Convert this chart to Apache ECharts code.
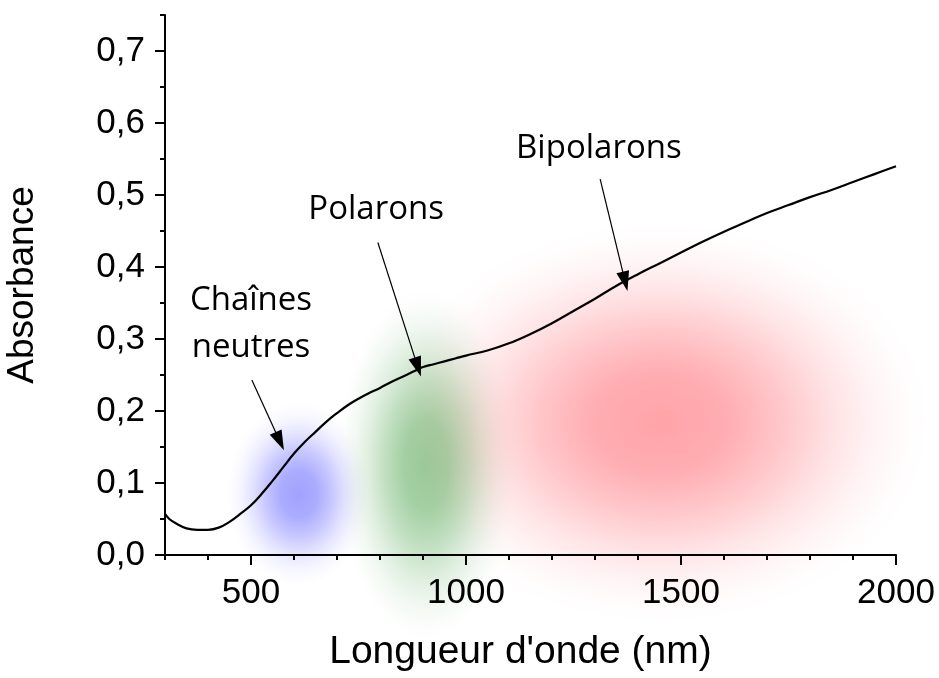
<!DOCTYPE html>
<html>
<head>
<meta charset="utf-8">
<script src="https://cdn.jsdelivr.net/npm/echarts@6/dist/echarts.min.js"></script>
<style>
html,body{margin:0;padding:0;background:#fff;}
#chart{width:939px;height:678px;}
</style>
</head>
<body>
<div id="chart"></div>
<script>
// Spectrum (wavelength nm, absorbance)
const wavelength = [300,310,325,350,375,400,425,450,475,500,525,550,575,600,625,650,675,700,725,750,775,800,825,850,875,900,925,950,975,1000,1050,1100,1150,1200,1250,1300,1350,1400,1450,1500,1550,1600,1650,1700,1750,1800,1850,1900,1950,2000];
const absorbance = [0.057,0.050,0.044,0.037,0.035,0.035,0.038,0.046,0.057,0.069,0.085,0.103,0.122,0.141,0.157,0.171,0.185,0.197,0.208,0.217,0.225,0.232,0.240,0.247,0.254,0.261,0.265,0.269,0.273,0.277,0.284,0.294,0.307,0.322,0.339,0.356,0.374,0.390,0.405,0.420,0.435,0.449,0.462,0.475,0.486,0.497,0.507,0.518,0.529,0.540];

// Tick labels
const xLabelValues = [500,1000,1500,2000];
const yLabelValues = [0,0.1,0.2,0.3,0.4,0.5,0.6,0.7];

// Coloured regions (centre wavelength, centre absorbance)
const blobX = [611, 907, 1451];
const blobY = [0.085, 0.125, 0.184];

// Annotations
const annoText = ['Chaînes\nneutres', 'Polarons', 'Bipolarons'];
const annoX = [500, 791, 1309];
const annoY = [0.321, 0.480, 0.565];
const arrowFromX = [502, 795, 1312];
const arrowFromY = [0.243, 0.434, 0.522];
const arrowToX = [567, 888, 1370];
const arrowToY = [0.158, 0.261, 0.380];

// Styles (not data)
const blobSize = [[72, 92], [90, 178], [270, 200]];
const blobRGB = [[100,100,255],[70,160,70],[255,80,90]];
const blobAlpha = [0.6, 0.55, 0.52];

function gradient(rgb, a) {
  const f = (k) => 'rgba(' + rgb.join(',') + ',' + (a * k).toFixed(3) + ')';
  return new echarts.graphic.RadialGradient(0.5, 0.5, 0.5, [
    {offset: 0, color: f(1)},
    {offset: 0.25, color: f(0.9)},
    {offset: 0.45, color: f(0.62)},
    {offset: 0.65, color: f(0.3)},
    {offset: 0.8, color: f(0.12)},
    {offset: 0.92, color: f(0.03)},
    {offset: 1, color: f(0)}
  ]);
}

const chart = echarts.init(document.getElementById('chart'), null, {renderer: 'canvas'});
const axisFont = '"Liberation Sans", Arial, sans-serif';
const noteFont = '"Open Sans", sans-serif';
const fmtY = v => v.toFixed(1).replace('.', ',');
const fmtX = v => String(Math.round(v));

const option = {
  animation: false,
  backgroundColor: '#fff',
  grid: {left: 165, right: 43, top: 15, bottom: 123, containLabel: false, outerBoundsMode: 'none'},
  xAxis: [{
    type: 'value', min: 300, max: 2000, interval: 100,
    name: "Longueur d'onde (nm)", nameLocation: 'middle', nameGap: 78,
    nameTextStyle: {fontFamily: axisFont, fontSize: 39, color: '#000', padding: [0, 20, 0, 0]},
    axisLine: {show: true, lineStyle: {color: '#000', width: 2}},
    axisTick: {show: true, inside: false, length: 5, lineStyle: {color: '#000', width: 2}},
    axisLabel: {customValues: xLabelValues, formatter: fmtX, margin: 21, fontFamily: axisFont, fontSize: 35, color: '#000'},
    splitLine: {show: false}, z: 5
  }, {
    type: 'value', min: 300, max: 2000, interval: 100, position: 'bottom',
    axisLine: {show: false},
    axisTick: {show: true, inside: false, length: 10, customValues: xLabelValues, lineStyle: {color: '#000', width: 2}},
    axisLabel: {show: false}, splitLine: {show: false}, z: 5
  }],
  yAxis: [{
    type: 'value', min: 0, max: 0.75, interval: 0.05,
    name: 'Absorbance', nameLocation: 'middle', nameGap: 124,
    nameTextStyle: {fontFamily: axisFont, fontSize: 37, color: '#000'},
    axisLine: {show: true, lineStyle: {color: '#000', width: 2}},
    axisTick: {show: true, inside: false, length: 5, lineStyle: {color: '#000', width: 2}},
    axisLabel: {customValues: yLabelValues, formatter: fmtY, margin: 20, fontFamily: axisFont, fontSize: 35, color: '#000'},
    splitLine: {show: false}, z: 5
  }, {
    type: 'value', min: 0, max: 0.75, interval: 0.05, position: 'left',
    axisLine: {show: false},
    axisTick: {show: true, inside: false, length: 10, customValues: yLabelValues, lineStyle: {color: '#000', width: 2}},
    axisLabel: {show: false}, splitLine: {show: false}, z: 5
  }],
  series: [{
    type: 'custom', name: 'régions', z: 1, clip: false, silent: true,
    xAxisIndex: 0, yAxisIndex: 0,
    data: blobX.map((x, i) => [x, blobY[i]]),
    renderItem: function (params, api) {
      const p = api.coord([api.value(0), api.value(1)]);
      const s = blobSize[params.dataIndex];
      return {
        type: 'circle',
        x: p[0], y: p[1], scaleX: s[0] / 100, scaleY: s[1] / 100,
        shape: {cx: 0, cy: 0, r: 100},
        style: {fill: gradient(blobRGB[params.dataIndex], blobAlpha[params.dataIndex])}
      };
    }
  }, {
    type: 'line', name: 'Absorbance', z: 4, xAxisIndex: 0, yAxisIndex: 0,
    data: wavelength.map((w, i) => [w, absorbance[i]]),
    smooth: 0.4, showSymbol: false, symbol: 'none',
    lineStyle: {color: '#000', width: 2.2},
    markLine: {
      silent: true, animation: false,
      label: {show: false},
      lineStyle: {color: '#000', width: 1.2, type: 'solid'},
      symbol: ['none', 'triangle'], symbolSize: [13, 20],
      data: arrowFromX.map((x, i) => [
        {coord: [x, arrowFromY[i]]},
        {coord: [arrowToX[i], arrowToY[i]]}
      ])
    }
  }, {
    type: 'scatter', name: 'annotations', z: 6, xAxisIndex: 0, yAxisIndex: 0,
    symbolSize: 0, silent: true,
    itemStyle: {opacity: 1, color: '#000'},
    data: annoX.map((x, i) => ({value: [x, annoY[i]], name: annoText[i]})),
    label: {
      show: true, position: 'inside', formatter: p => p.name, opacity: 1,
      fontFamily: noteFont, fontSize: 33, color: '#000', lineHeight: 47, align: 'center'
    }
  }]
};
chart.setOption(option);
</script>
</body>
</html>
